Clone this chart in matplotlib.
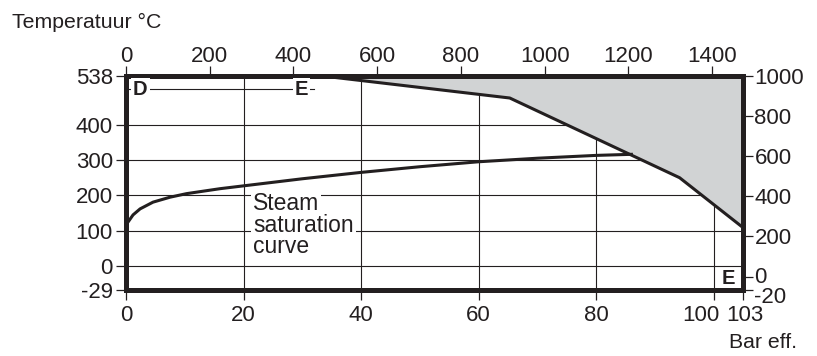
import numpy as np
import matplotlib
matplotlib.use("Agg")
import matplotlib.pyplot as plt
from matplotlib.transforms import ScaledTranslation

# steam saturation curve (bar eff. -> degC)
sat_bar = [0, 0.4, 1.2, 2.4, 4.6, 7.5, 10.3, 16, 20, 30, 40, 50, 60, 70, 80, 86]
sat_temp = [118, 126, 145, 162, 181, 195, 205, 219, 227, 247, 265, 281, 295, 305, 313, 316]

# upper limit of the allowed area (grey region above it)
limit_bar = [33, 65.3, 94.2, 103]
limit_temp = [538, 475, 250, 110]

# D - E line
de_bar = [0, 32]
de_temp = [500, 500]

bar_ticks = [0, 20, 40, 60, 80, 100, 103]
celsius_ticks = [-29, 0, 100, 200, 300, 400, 538]
psi_ticks = [0, 200, 400, 600, 800, 1000, 1200, 1400]
fahr_ticks = [-20, 0, 200, 400, 600, 800, 1000]
psi_max = 1473

ink = "#231f20"
grey = "#d1d3d4"

plt.rcParams["font.family"] = ["Liberation Sans", "DejaVu Sans"]
plt.rcParams["text.color"] = ink


def stretched(knee, k, upper):
    # the drawing stretches the last bit of an axis to make room for labels
    if upper:
        fwd = lambda v: np.where(np.asarray(v) > knee, knee + (np.asarray(v) - knee) * k, v)
        inv = lambda u: np.where(np.asarray(u) > knee, knee + (np.asarray(u) - knee) / k, u)
    else:
        fwd = lambda v: np.where(np.asarray(v) < knee, knee + (np.asarray(v) - knee) * k, v)
        inv = lambda u: np.where(np.asarray(u) < knee, knee + (np.asarray(u) - knee) / k, u)
    return fwd, inv


def nudge(label, dx, dy):
    label.set_transform(label.get_transform() + ScaledTranslation(dx / 100, dy / 100, fig.dpi_scale_trans))


fig = plt.figure(figsize=(8.17, 3.56), dpi=100)
ax = fig.add_axes([0.1542, 0.1854, 0.7548, 0.6020])

ax.set_xscale("function", functions=stretched(100, 1.644, True))
ax.set_yscale("function", functions=stretched(0, 2.31, False))
ax.set_xlim(bar_ticks[0], bar_ticks[-1])
ax.set_ylim(celsius_ticks[0], celsius_ticks[-1])
ax.set_xticks(bar_ticks)
ax.set_yticks(celsius_ticks)
ax.set_xticklabels([str(t) for t in bar_ticks])
ax.set_yticklabels([str(t) for t in celsius_ticks])

ax.set_axisbelow(True)
ax.grid(True, color=ink, linewidth=0.8)

ax.fill_between(limit_bar, limit_temp, celsius_ticks[-1], color=grey, linewidth=0, zorder=1)
ax.plot(limit_bar, limit_temp, color=ink, linewidth=2.2, solid_joinstyle="miter", zorder=3)
ax.plot(sat_bar, sat_temp, color=ink, linewidth=2.2, zorder=3)
ax.plot(de_bar, de_temp, color=ink, linewidth=0.8, zorder=2)

box = dict(facecolor="white", edgecolor="none", pad=1.5)
ax.text(1.2, 500, "D", fontsize=14.5, fontweight="bold", ha="left", va="center", bbox=box, zorder=4)
ax.text(29.9, 500, "E", fontsize=14.5, fontweight="bold", ha="center", va="center", bbox=box, zorder=4)
ax.text(101.55, -15, "E", fontsize=14.5, fontweight="bold", ha="center", va="center", zorder=4)

for line, t in zip(["Steam", "saturation", "curve"], [159, 98, 37]):
    ax.text(21.6, t, line, fontsize=16.5, ha="left", va="baseline",
            bbox=dict(facecolor="white", edgecolor="none", pad=1.5), zorder=4)

for s in ax.spines.values():
    s.set_linewidth(3.6)
    s.set_color(ink)

ax.tick_params(axis="both", direction="out", length=7.5, width=0.9, color=ink,
               labelsize=16, labelcolor=ink)
ax.tick_params(axis="y", pad=2)
ax.tick_params(axis="x", pad=3.5)

# top axis: psi
axt = ax.twiny()
axt.set_xlim(0, psi_max)
axt.set_xticks(psi_ticks)
axt.set_xticklabels([str(t) for t in psi_ticks])
axt.tick_params(axis="x", direction="out", length=7.5, width=0.9, color=ink,
                labelsize=16, labelcolor=ink, pad=-1)

# right axis: degF
axr = ax.twinx()
axr.set_yscale("function", functions=stretched(0, 3.31, False))
axr.set_ylim(fahr_ticks[0], fahr_ticks[-1])
axr.set_yticks(fahr_ticks)
axr.set_yticklabels([str(t) for t in fahr_ticks])
axr.tick_params(axis="y", direction="out", length=7.5, width=0.9, color=ink,
                labelsize=16, labelcolor=ink, pad=1)

for a in (axt, axr):
    for s in a.spines.values():
        s.set_visible(False)

# crowded labels are pushed apart in the original
nudge(ax.get_xticklabels()[5], -13, 0)
nudge(ax.get_xticklabels()[6], 2, 0)
nudge(axr.get_yticklabels()[0], 0, -5)
nudge(axr.get_yticklabels()[1], 0, 2)

fig.text(12 / 817, 1 - 22 / 356, "Temperatuur °C", fontsize=15.3, ha="left", va="center")
fig.text(797 / 817, 1 - 342 / 356, "Bar eff.", fontsize=15.3, ha="right", va="center")

fig.savefig("out.png", dpi=100, facecolor="white")
